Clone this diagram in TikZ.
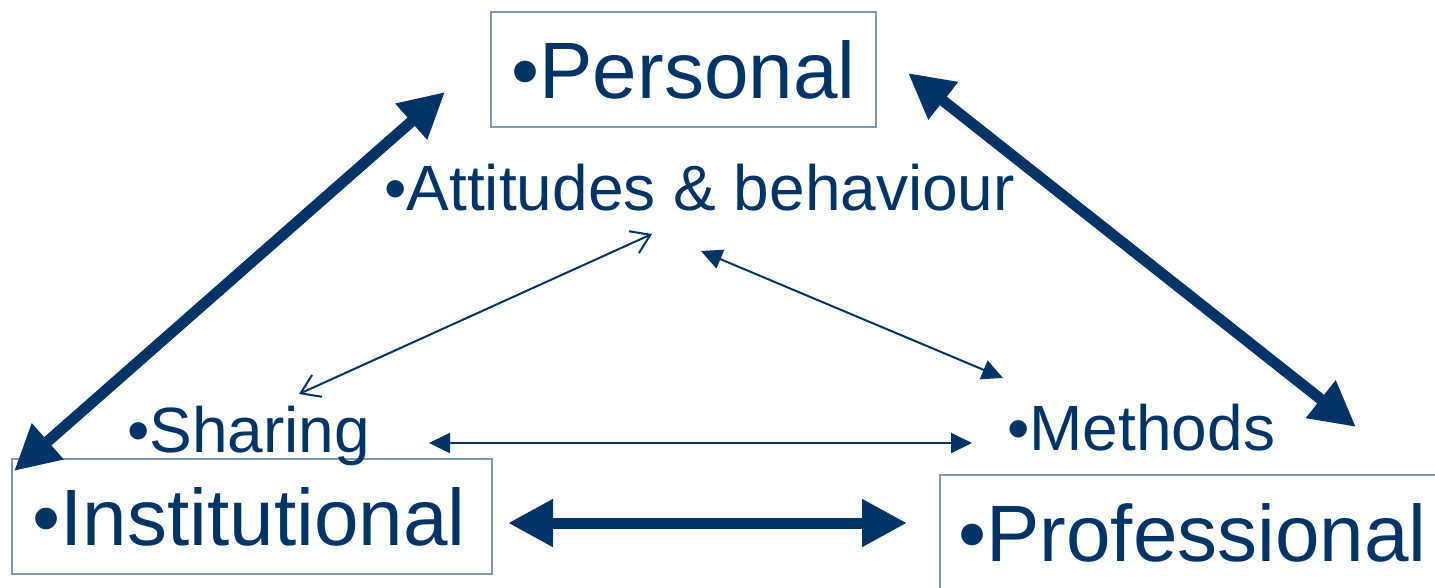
\documentclass[tikz,border=0pt]{standalone}
\usepackage{fontspec}
\setmainfont{Liberation Sans}
\usepackage{xcolor}
\usepackage{tikz}
\usetikzlibrary{arrows.meta,positioning}
\definecolor{navyText}{RGB}{0,51,102}
\definecolor{boxEdge}{RGB}{128,151,180}
\tikzset{
  levelBox/.style={
    rectangle,
    draw=boxEdge,
    line width=2pt,
    text=navyText,
    font=\fontsize{80}{90}\selectfont,
    minimum height=115pt,
    inner sep=0pt
  },
  topicLabel/.style={
    text=navyText,
    font=\fontsize{64}{72}\selectfont,
    inner sep=0pt,
    anchor=base west
  },
  bigArrow/.style={
    {Triangle[length=45pt,width=45pt]}-{Triangle[length=45pt,width=45pt]},
    line width=11pt,
    draw=navyText
  },
  thinArrow/.style={
    {Triangle[length=21pt,width=20pt]}-{Triangle[length=21pt,width=20pt]},
    line width=2pt,
    draw=navyText
  },
  openArrow/.style={
    {Straight Barb[length=18pt,width=24pt]}-{Straight Barb[length=18pt,width=24pt]},
    line width=2pt,
    draw=navyText
  }
}
\begin{document}
\begin{tikzpicture}[x=1pt, y=-1pt]
        \clip (0,0) rectangle (1435,587);

        \node[levelBox, minimum width=385pt] (personal) at (683.5,69.5) {•Personal};
        \node[levelBox, minimum width=480pt] (institutional) at (252,516.5) {\hspace*{-6pt}•Institutional};
        \node[levelBox, minimum width=505pt] (professional) at (1192.5,532.5) {•Professional};

        \node[topicLabel] (attitudes) at (384,210) {•Attitudes \& behaviour};
        \node[topicLabel] (sharing) at (127,452) {•Sharing};
        \node[topicLabel] (methods) at (1007,450) {•Methods};

        % ends of the arrows
        \coordinate (persSW) at (445,92);
        \coordinate (instNE) at (14,471);
        \coordinate (persSE) at (908,73);
        \coordinate (profNW) at (1356,427);
        \coordinate (instE) at (508,523);
        \coordinate (profW) at (907,523);
        \coordinate (attSW) at (652,234);
        \coordinate (sharNE) at (299,394);
        \coordinate (attSE) at (701,251);
        \coordinate (methNW) at (1003,378);
        \coordinate (sharE) at (429,443);
        \coordinate (methW) at (972,443);

        \draw[bigArrow] (instNE) -- (persSW);
        \draw[bigArrow] (persSE) -- (profNW);
        \draw[bigArrow] (instE) -- (profW);

        \draw[openArrow] (sharNE) -- (attSW);
        \draw[thinArrow] (attSE) -- (methNW);
        \draw[thinArrow] (sharE) -- (methW);

    \end{tikzpicture}
\end{document}
